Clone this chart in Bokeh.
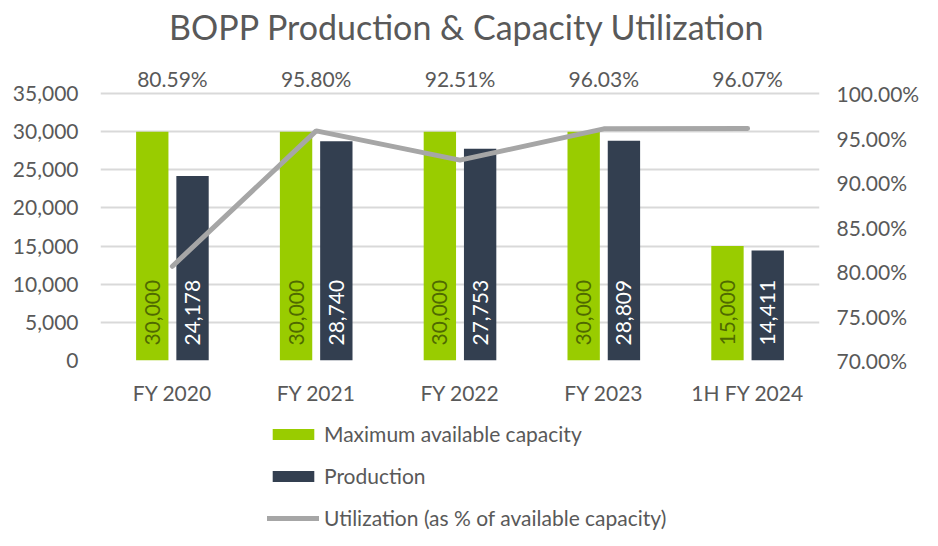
from math import pi
from bokeh.plotting import figure
from bokeh.layouts import column
from bokeh.models import (FactorRange, Range1d, LinearAxis, NumeralTickFormatter,
                          FixedTicker, ColumnDataSource, LabelSet, Label, Legend,
                          LegendItem)
from bokeh.transform import dodge
from bokeh.core.properties import value
from bokeh.embed import file_html
from bokeh.resources import INLINE

title_text = "BOPP Production & Capacity Utilization"
categories = ["FY 2020", "FY 2021", "FY 2022", "FY 2023", "1H FY 2024"]
capacity = [30000, 30000, 30000, 30000, 15000]
production = [24178, 28740, 27753, 28809, 14411]
utilization = [0.8059, 0.9580, 0.9251, 0.9603, 0.9607]
left_ticks = [0, 5000, 10000, 15000, 20000, 25000, 30000, 35000]
right_ticks = [0.70, 0.75, 0.80, 0.85, 0.90, 0.95, 1.00]
series_names = ["Maximum available capacity", "Production",
                "Utilization (as % of available capacity)"]

FONT = "Lato"
GREEN = "#99CC00"
NAVY = "#333F50"
GREY = "#A6A6A6"
TXT = "#595959"

# headroom above the top gridline for the percentage labels
HEAD = 298 / 267
y_top = 35000 * HEAD
pct_top = 0.70 + 0.30 * HEAD

src = ColumnDataSource(dict(
    cat=categories,
    cap=capacity,
    prod=production,
    util=utilization,
    cap_lbl=["{:,}".format(v) for v in capacity],
    prod_lbl=["{:,}".format(v) for v in production],
    util_lbl=["{:.2f}%".format(v * 100) for v in utilization],
))


def blank(height):
    f = figure(width=922, height=height, output_backend="svg",
               toolbar_location=None, x_range=Range1d(0, 1),
               y_range=Range1d(0, height), x_axis_type=None, y_axis_type=None,
               min_border_left=0, min_border_right=0, min_border_top=0,
               min_border_bottom=0)
    f.outline_line_color = None
    f.grid.grid_line_color = None
    return f


# ---- title strip ----
tf = blank(50)
tf.add_layout(Label(x=0.51, y=24, text=title_text, text_align="center",
                    text_baseline="middle", text_font=FONT,
                    text_font_size="34px", text_color=TXT))

# ---- main chart ----
p = figure(x_range=FactorRange(factors=categories, range_padding=0),
           y_range=Range1d(0, y_top),
           width=922, height=370, output_backend="svg", toolbar_location=None,
           min_border_left=100, min_border_right=102, min_border_top=12,
           min_border_bottom=60)
p.extra_y_ranges = {"pct": Range1d(0.70, pct_top)}

p.outline_line_color = None
p.xgrid.grid_line_color = None
p.ygrid.grid_line_color = "#D9D9D9"
p.ygrid.grid_line_width = 2
p.ygrid.ticker = FixedTicker(ticks=left_ticks)

for ax in [p.xaxis[0], p.yaxis[0]]:
    ax.axis_line_color = None
    ax.major_tick_line_color = None
    ax.minor_tick_line_color = None
    ax.major_tick_out = 0
    ax.minor_tick_out = 0
    ax.major_label_text_font = FONT
    ax.major_label_text_font_size = "21px"
    ax.major_label_text_color = TXT

p.yaxis[0].ticker = FixedTicker(ticks=left_ticks)
p.yaxis[0].formatter = NumeralTickFormatter(format="0,0")
p.yaxis[0].major_label_standoff = 22
p.xaxis[0].major_label_standoff = 19

rax = LinearAxis(y_range_name="pct", ticker=FixedTicker(ticks=right_ticks),
                 formatter=NumeralTickFormatter(format="0.00%"))
rax.axis_line_color = None
rax.major_tick_line_color = None
rax.minor_tick_line_color = None
rax.major_tick_out = 0
rax.minor_tick_out = 0
rax.major_label_text_font = FONT
rax.major_label_text_font_size = "21px"
rax.major_label_text_color = TXT
rax.major_label_standoff = 17
p.add_layout(rax, "right")

p.vbar(x=dodge("cat", -0.14, range=p.x_range), top="cap", width=0.225,
       source=src, fill_color=GREEN, line_color=None)
p.vbar(x=dodge("cat", 0.14, range=p.x_range), top="prod", width=0.225,
       source=src, fill_color=NAVY, line_color=None)

p.text(x=dodge("cat", -0.14, range=p.x_range), y=0, text="cap_lbl", source=src,
       angle=pi / 2, text_align="left", text_baseline="middle", y_offset=-15,
       text_font=value(FONT), text_font_size="21px", text_color="#4F6A00")
p.text(x=dodge("cat", 0.14, range=p.x_range), y=0, text="prod_lbl", source=src,
       angle=pi / 2, text_align="left", text_baseline="middle", y_offset=-15,
       text_font=value(FONT), text_font_size="21px", text_color="white")

p.line(x="cat", y="util", source=src, y_range_name="pct",
       line_width=5, line_color=GREY, line_cap="round")

labels = LabelSet(x="cat", y=35000, text="util_lbl", source=src,
                  text_align="center", text_baseline="middle", y_offset=15,
                  text_font=value(FONT), text_font_size="21px", text_color=TXT)
p.add_layout(labels)

# ---- legend strip below the chart ----
lg = blank(110)
# hidden renderers that only provide the legend swatches
g_cap = lg.vbar(x="util", top="util", width=0.1, source=src, visible=False,
                fill_color=GREEN, line_color=None)
g_prod = lg.vbar(x="util", top="util", width=0.1, source=src, visible=False,
                 fill_color=NAVY, line_color=None)
g_util = lg.line(x="util", y="util", source=src, visible=False, line_width=5,
                 line_color=GREY, line_cap="round")

legend = Legend(items=[
    LegendItem(label=series_names[0], renderers=[g_cap]),
    LegendItem(label=series_names[1], renderers=[g_prod]),
    LegendItem(label=series_names[2], renderers=[g_util]),
], location=(167, 0), orientation="vertical",
    glyph_width=52, glyph_height=14, label_standoff=5, label_height=25,
    label_text_font=FONT, label_text_font_size="21px", label_text_color=TXT,
    spacing=17, padding=0, margin=0, click_policy="none",
    inactive_fill_alpha=0,
    background_fill_alpha=0, border_line_alpha=0)
lg.add_layout(legend)

open("out.html", "w").write(file_html(column(tf, p, lg, spacing=0), INLINE))
